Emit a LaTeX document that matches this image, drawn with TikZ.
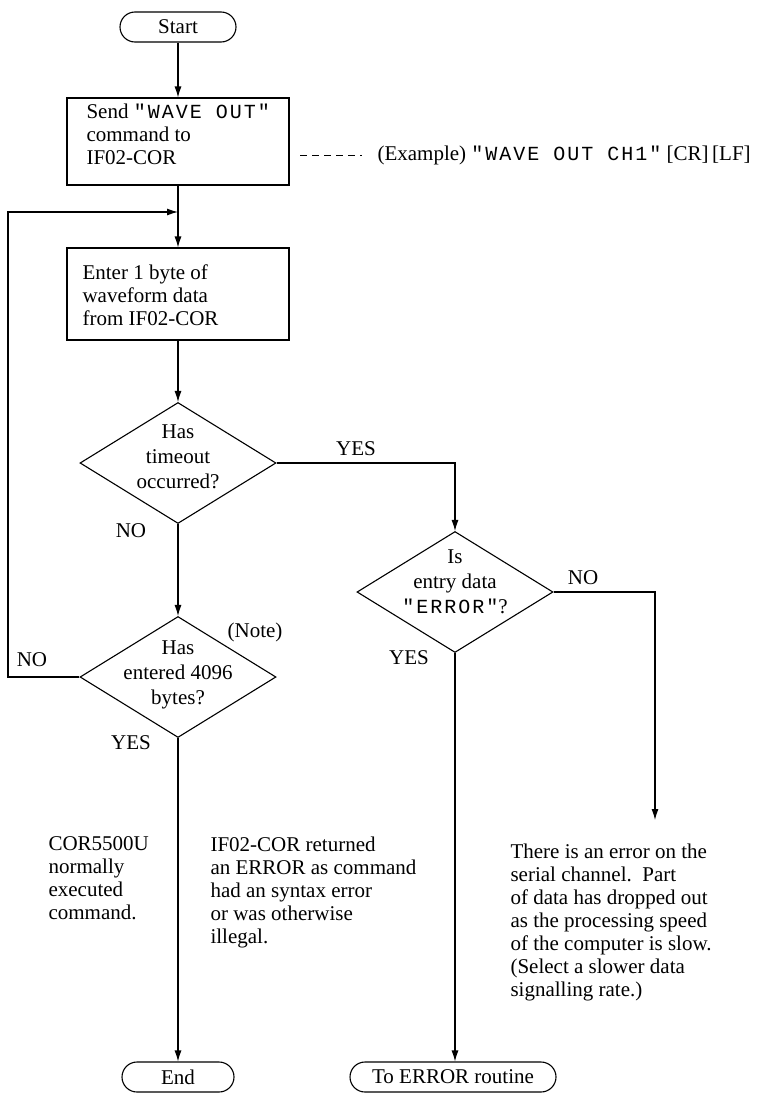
\documentclass[tikz,border=0pt]{standalone}
\usepackage{fontspec}
\setmainfont{Liberation Serif}
\newfontfamily\monof[LetterSpace=10]{Liberation Mono}
\usetikzlibrary{arrows.meta,shapes.geometric}
\newcommand{\mw}[1]{{\monof\fontsize{20}{23}\selectfont #1}}
\begin{document}
\begin{tikzpicture}[x=1pt,y=-1pt, line width=1.1pt,
  every node/.style={font=\fontsize{21}{23}\selectfont},
  term/.style={draw, rounded corners=15pt, minimum height=30pt, inner sep=0pt},
  procbox/.style={draw, minimum width=222pt, inner sep=0pt},
  decision/.style={draw, diamond, minimum width=196pt, minimum height=121pt, inner sep=0pt},
  txt/.style={align=left, inner sep=0pt, anchor=north west},
  dtxt/.style={align=center, inner sep=0pt, font=\fontsize{21}{25}\selectfont},
  lbl/.style={inner sep=0pt},
  flow/.style={-{Latex[length=11pt,width=7pt]}}
]
\useasboundingbox (0,0) rectangle (771,1103);

% terminals
\node[term, minimum width=116pt] (start) at (178,27) {Start};
\node[term, minimum width=112pt] (end) at (178,1077) {End};
\node[term, minimum width=206pt] (err) at (453,1077) {To ERROR routine};

% process boxes
\node[procbox, minimum height=87pt] (send) at (178,141.5) {};
\node[txt] (sendt) at (86,103) {Send \mw{"WAVE OUT"}\\command to\\IF02-COR};
\node[procbox, minimum height=92pt] (enter) at (178,294) {};
\node[txt] (entert) at (82,264) {Enter 1 byte of\\waveform data\\from IF02-COR};

% example annotation
\node[anchor=west, inner sep=0pt] (exa) at (377,155) {(Example) \mw{"WAVE OUT CH1"} [CR]\,[LF]};
\draw[line width=0.9pt, dash pattern=on 7pt off 5pt] ([xshift=-77pt]exa.west) -- ([xshift=-15pt]exa.west);

% decisions
\node[decision] (d1) at (178,463) {};
\node[dtxt] (d1t) at (178,457) {Has\\timeout\\occurred?};
\node[decision] (d2) at (455,592) {};
\node[dtxt] (d2t) at (455,582) {Is\\entry data\\\mw{"ERROR"}?};
\node[decision] (d3) at (178,677) {};
\node[dtxt] (d3t) at (178,675) {Has\\entered 4096\\bytes?};

% helper coordinates
\coordinate (join) at (178,212);
\coordinate (loopc) at (8,212);
\coordinate (nofree) at (655,820);

% connectors
\draw[flow] (start) -- (send);
\draw (send) -- (join);
\draw[flow] (join) -- (enter);
\draw[flow] (enter) -- (d1);
\draw[flow] (d1.east) -| (d2.north);
\draw[flow] (d1.south) -- (d3.north);
\draw[flow] (d3.west) -| (loopc) -- (join);
\draw[flow] (d3.south) -- (end.north);
\draw[flow] (d2.south) -- (d2.south |- err.north);
\draw[flow] (d2.east) -| (nofree);

% branch labels
\node[lbl] (ly1) at (356,449) {YES};
\node[lbl] (ln1) at (131,531) {NO};
\node[lbl] (ln3) at (32,660) {NO};
\node[lbl] (note) at (255,632) {(Note)};
\node[lbl] (ly3) at (131,743) {YES};
\node[lbl] (ly2) at (409,658) {YES};
\node[lbl] (ln2) at (583,578) {NO};

% outcome texts
\node[txt] (c1) at (48,836) {COR5500U\\normally\\executed\\command.};
\node[txt] (c2) at (210,836) {IF02-COR returned\\an ERROR as command\\had an syntax error\\or was otherwise\\illegal.};
\node[txt] (c3) at (510,843) {There is an error on the\\serial channel.\ \ Part\\of data has dropped out\\as the processing speed\\of the computer is slow.\\(Select a slower data\\signalling rate.)};
\end{tikzpicture}
\end{document}
